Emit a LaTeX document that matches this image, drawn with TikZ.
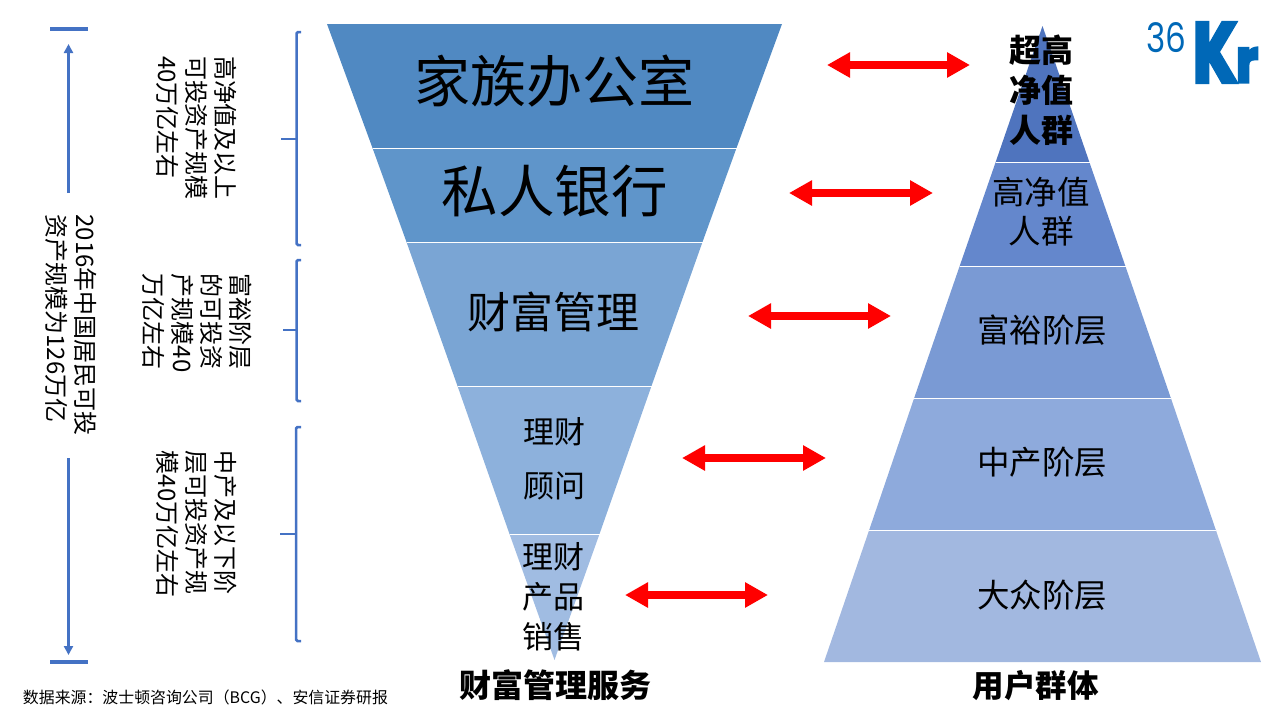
\documentclass[tikz,border=0pt]{standalone}
\usepackage{graphicx}
\usepackage{fontspec}
\setmainfont{Noto Sans CJK SC}
\newfontfamily\vertfont[Vertical=RotatedGlyphs]{Noto Sans CJK SC}
\newfontfamily\logofont[BoldFeatures={FakeBold=5}]{Poppins}
\usetikzlibrary{arrows.meta}
\definecolor{fundA}{HTML}{5089C2}
\definecolor{fundB}{HTML}{5F95CA}
\definecolor{fundC}{HTML}{7AA5D4}
\definecolor{fundD}{HTML}{8DB1DC}
\definecolor{fundE}{HTML}{A0BCE2}
\definecolor{userA}{HTML}{4F74BE}
\definecolor{userB}{HTML}{6487CC}
\definecolor{userC}{HTML}{7A9AD4}
\definecolor{userD}{HTML}{8EAADC}
\definecolor{userE}{HTML}{A2B8E0}
\definecolor{brck}{HTML}{4472C4}
\definecolor{kr}{HTML}{0068B7}

\begin{document}
\begin{tikzpicture}[
		x=1pt, y=-1pt,
		every node/.style = {inner sep=0pt, outer sep=0pt},
		lbl/.style args = {#1/#2}{align=center, font=\fontsize{#1}{#2}\selectfont},
		blbl/.style args = {#1/#2}{align=center, font=\fontsize{#1}{#2}\selectfont\bfseries},
		vlbl/.style = {rotate=-90, align=left, font=\fontsize{24}{29}\selectfont\vertfont},
		band/.style = {draw=white, line width=1pt},
		brace/.style = {draw=brck, line width=2.5pt, rounded corners=1.5pt},
		tick/.style = {draw=brck, line width=2pt},
		bar/.style = {draw=brck, line width=4pt},
		span/.style = {draw=brck, line width=2.5pt, -{Triangle[length=9pt,width=9pt]}},
		link/.style = {draw=red, line width=8pt, {Triangle[length=23pt,width=24pt]}-{Triangle[length=23pt,width=24pt]}},
		logo/.style = {text=kr, anchor=south west}
                    ]
		\useasboundingbox (0,0) rectangle (1280,720);

		% inverted triangle
		\fill[fundA] (327,24) -- (782,24) -- (736.5,148) -- (372.5,148) -- cycle;
		\fill[fundB] (372.5,148) -- (736.5,148) -- (702.5,242) -- (406.5,242) -- cycle;
		\fill[fundC] (406.5,242) -- (702.5,242) -- (651.5,386) -- (457.5,386) -- cycle;
		\fill[fundD] (457.5,386) -- (651.5,386) -- (599.5,534) -- (509.5,534) -- cycle;
		\fill[fundE] (509.5,534) -- (599.5,534) -- (554.5,660) -- cycle;
		\draw[band] (372.5,148) -- (736.5,148);
		\draw[band] (406.5,242) -- (702.5,242);
		\draw[band] (457.5,386) -- (651.5,386);
		\draw[band] (509.5,534) -- (599.5,534);

		% pyramid
		\fill[userA] (1042.5,26) -- (1089.5,162.5) -- (995.5,162.5) -- cycle;
		\fill[userB] (995.5,162.5) -- (1089.5,162.5) -- (1125.5,266.5) -- (959.5,266.5) -- cycle;
		\fill[userC] (959.5,266.5) -- (1125.5,266.5) -- (1171,398.5) -- (914,398.5) -- cycle;
		\fill[userD] (914,398.5) -- (1171,398.5) -- (1216,530.5) -- (869,530.5) -- cycle;
		\fill[userE] (869,530.5) -- (1216,530.5) -- (1261,662) -- (824,662) -- cycle;
		\draw[band] (995.5,162.5) -- (1089.5,162.5);
		\draw[band] (959.5,266.5) -- (1125.5,266.5);
		\draw[band] (914,398.5) -- (1171,398.5);
		\draw[band] (869,530.5) -- (1216,530.5);

		% labels
		\node(office) [lbl=56/60] at (554,81) {家族办公室};
		\node(bank) [lbl=56.5/60] at (554.5,191) {私人银行};
		\node(wealth) [lbl=43/48] at (553.5,312) {财富管理};
		\node(advisor) [lbl=31/54] at (554,459) {理财\\顾问};
		\node(sales) [lbl=31/40] at (553.5,597) {理财\\产品\\销售};
		\node(service) [blbl=32/36] at (555,685) {财富管理服务};
		\node(ultra) [blbl=32/40] at (1041,90) {超高\\净值\\人群};
		\node(high) [lbl=32.5/39] at (1041,212) {高净值\\人群};
		\node(rich) [lbl=32.5/36] at (1042,330) {富裕阶层};
		\node(middle) [lbl=32.5/36] at (1042,462) {中产阶层};
		\node(mass) [lbl=32.5/36] at (1042,595) {大众阶层};
		\node(users) [blbl=31.5/36] at (1035.5,686) {用户群体};
		\node(source) [lbl=15.9/18, anchor=west] at (23,697) {数据来源：波士顿咨询公司（BCG）、安信证券研报};

		% vertical labels
		\node(total) [vlbl] at (71,325) {2016年中国居民可投\\资产规模为126万亿};
		\node(upper) [vlbl] at (197,128) {高净值及以上\\可投资产规模\\40万亿左右};
		\node(richtext) [vlbl] at (197,323) {富裕阶层\\的可投资\\产规模40\\万亿左右};
		\node(lower) [vlbl] at (197,524) {中产及以下阶\\层可投资产规\\模40万亿左右};

		% left span
		\coordinate(topl) at (50,29);
		\coordinate(topr) at (88,29);
		\coordinate(botl) at (50,662);
		\coordinate(botr) at (88,662);
		\coordinate(upfrom) at (68.5,193);
		\coordinate(upto) at (68.5,44);
		\coordinate(downfrom) at (68.5,458);
		\coordinate(downto) at (68.5,655);
		\draw[bar] (topl) -- (topr);
		\draw[bar] (botl) -- (botr);
		\draw[span] (upfrom) -- (upto);
		\draw[span] (downfrom) -- (downto);

		% brackets
		\draw[brace] (301,32) -- (296.5,32) -- (296.5,245) -- (301,245);
		\draw[brace] (301,260) -- (296.5,260) -- (296.5,401) -- (301,401);
		\draw[brace] (301,427) -- (296,427) -- (296,641) -- (301,641);
		\draw[tick] (281,139) -- (296.5,139);
		\draw[tick] (283,330) -- (296.5,330);
		\draw[tick] (280,534) -- (296,534);

		% red arrows
		\coordinate(a1) at (827,65);
		\coordinate(b1) at (970,65);
		\coordinate(a2) at (789,193);
		\coordinate(b2) at (933,193);
		\coordinate(a3) at (748,316);
		\coordinate(b3) at (891,316);
		\coordinate(a4) at (682,458);
		\coordinate(b4) at (826,458);
		\coordinate(a5) at (625,595);
		\coordinate(b5) at (768,595);
		\draw[link] (a1) -- (b1);
		\draw[link] (a2) -- (b2);
		\draw[link] (a3) -- (b3);
		\draw[link] (a4) -- (b4);
		\draw[link] (a5) -- (b5);

		% logo
		\node(logoa) [logo] at (1146,53) {\resizebox{40pt}{30pt}{\logofont 36}};
		\node(logob) [logo] at (1193,82) {\resizebox{44pt}{59pt}{\logofont\bfseries K}};
		\node(logoc) [logo] at (1236,82) {\resizebox{22pt}{34pt}{\logofont\bfseries r}};
	\end{tikzpicture}
\end{document}
